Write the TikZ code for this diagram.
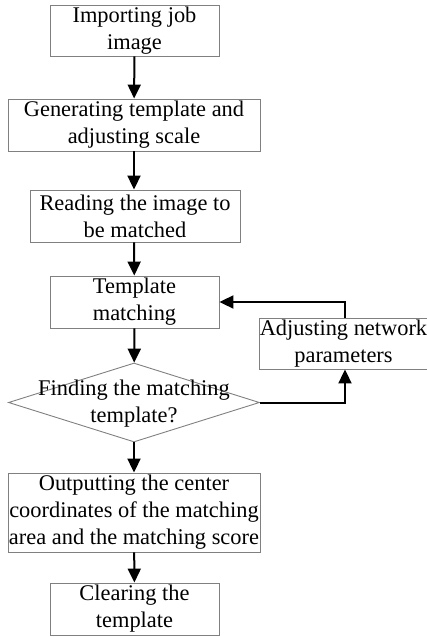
\documentclass[tikz,border=0pt]{standalone}
\usepackage{fontspec}
\setmainfont{Liberation Serif}
\usetikzlibrary{shapes.geometric,arrows.meta}
\tikzset{
  stepbox/.style={draw=black!50, line width=0.9pt, fill=white, inner sep=0pt,
    align=center, font=\fontsize{22.4}{27}\selectfont},
  decision/.style={draw=black!50, line width=0.9pt, shape=diamond, inner sep=0pt},
  txt/.style={align=center, inner sep=0pt, font=\fontsize{22.4}{27}\selectfont},
  flow/.style={draw=black, line width=2pt, -{Triangle[length=14pt,width=13pt]}}
}
\begin{document}
\begin{tikzpicture}[x=1pt,y=-1pt]
\useasboundingbox (0,0) rectangle (427,637);
\node[stepbox, minimum width=169pt, minimum height=51pt] (b1) at (134.5,30.5) {Importing job\\image};
\node[stepbox, minimum width=252pt, minimum height=52pt] (b2) at (134,125) {Generating template and\\adjusting scale};
\node[stepbox, minimum width=210pt, minimum height=52pt] (b3) at (135,216) {Reading the image to\\be matched};
\node[stepbox, minimum width=169pt, minimum height=52pt] (b4) at (134.5,302) {Template\\matching};
\node[decision, minimum width=251pt, minimum height=79pt] (d) at (134,402.5) {};
\node[txt] (dt) at (134,404) {Finding the matching\\template?};
\node[stepbox, minimum width=252pt, minimum height=79pt] (b6) at (134,512.5) {Outputting the center\\coordinates of the matching\\area and the matching score};
\node[stepbox, minimum width=169pt, minimum height=52pt] (b7) at (134.5,609) {Clearing the\\template};
\node[stepbox, minimum width=167pt, minimum height=51pt] (adj) at (343.5,343.5) {Adjusting network\\parameters};

\draw[flow] (b1) -- (b2);
\draw[flow] (b2) -- (b3.north -| b2);
\draw[flow] (b3.south -| b2) -- (b4);
\draw[flow] (b4) -- (d);
\draw[flow] (d) -- (b6);
\draw[flow] (b6) -- (b7);
\draw[flow] (d.east) -| ([xshift=1.5pt]adj.south);
\draw[flow] ([xshift=1.5pt]adj.north) |- (b4.east);
\end{tikzpicture}
\end{document}
